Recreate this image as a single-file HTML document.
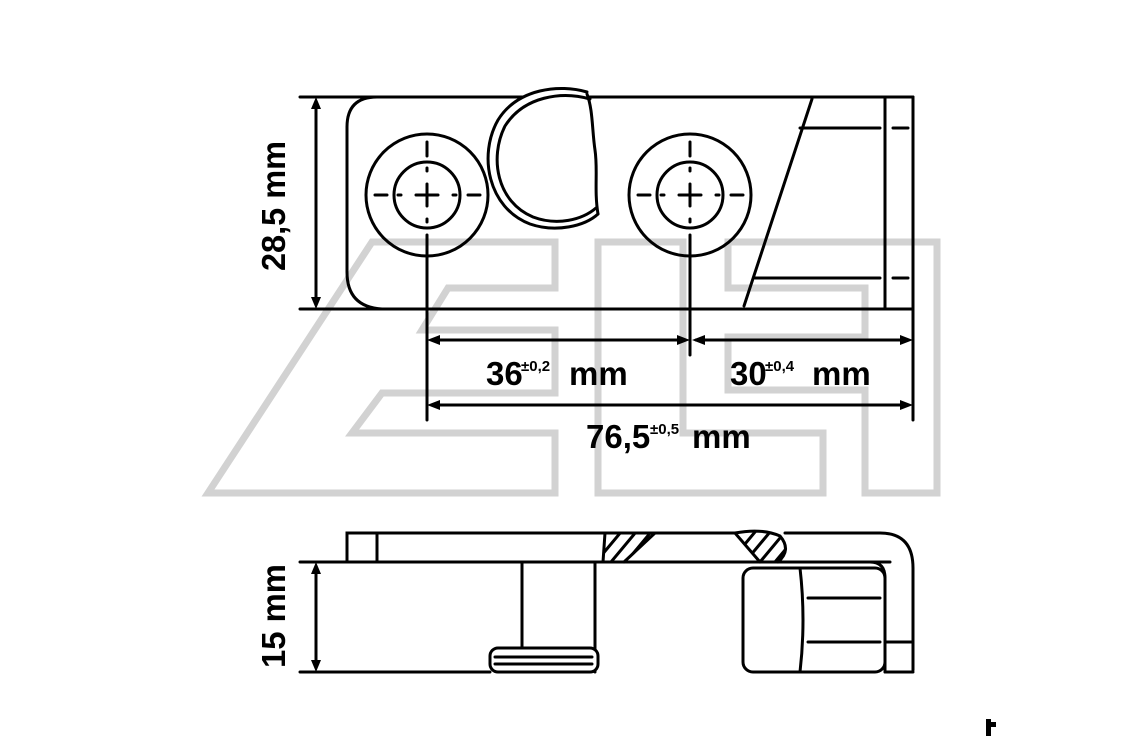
<!DOCTYPE html>
<html><head><meta charset="utf-8"><style>
html,body{margin:0;padding:0;background:#fff;}
svg{display:block;}
text{font-family:"Liberation Sans",sans-serif;font-weight:bold;fill:#000;}
</style></head><body>
<svg width="1146" height="736" viewBox="0 0 1146 736" xmlns="http://www.w3.org/2000/svg">
<defs>
<clipPath id="h1"><polygon points="603,533 655,533 624,562 603,562"/></clipPath>
<clipPath id="h2"><path d="M735,533 Q762,528 780,536 Q792,550 778,562 L760,562 Z"/></clipPath>
</defs>
<!-- watermark -->
<g fill="none" stroke="#d2d2d2" stroke-width="7" stroke-linejoin="miter">
<polygon points="372,242 555,242 555,288 448,288 422,330 555,330 555,393 382,393 352,433 555,433 555,493 208,493"/>
<polygon points="598,242 683,242 683,433 823,433 823,493 598,493"/>
<polygon points="728,242 937,242 937,493 865,493 865,390 728,390 728,337 865,337 865,288 728,288"/>
</g>
<g fill="none" stroke="#000" stroke-width="3" stroke-linecap="round">
<!-- top view body -->
<path d="M300,97 L913,97 M300,309 L913,309"/>
<path d="M377,97 Q347,97 347,127 L347,272 Q347,307 382,309"/>
<line x1="913" y1="97" x2="913" y2="420"/>
<line x1="885" y1="97" x2="885" y2="309"/>
<line x1="812" y1="99" x2="744" y2="306"/>
<line x1="800" y1="128" x2="880" y2="128"/>
<line x1="755" y1="278" x2="880" y2="278"/>
<line x1="893" y1="128" x2="908" y2="128"/>
<line x1="893" y1="278" x2="908" y2="278"/>
<!-- crescent -->
<path d="M587,92 C560,84 518,88 498,120 C478,155 488,208 530,224 C556,233 585,226 598,214" fill="#fff"/>
<path d="M590,99 C562,91 524,96 505,126 C489,158 497,202 533,217 C557,226 582,220 596,208"/>
<path d="M587,94 C593,110 592,130 595,150 C598,170 594,190 598,214"/>
<!-- circles -->
<circle cx="427" cy="195" r="61"/>
<circle cx="427" cy="195" r="33"/>
<circle cx="690" cy="195" r="61"/>
<circle cx="690" cy="195" r="33"/>
<!-- crosshairs -->
<g stroke-width="3">
<path d="M375,195h12 M398,195h3 M416,195h22 M453,195h3 M468,195h12"/>
<path d="M427,142v14 M427,168v3 M427,184v22 M427,219v3 M427,235v185"/>
<path d="M638,195h12 M661,195h3 M679,195h22 M716,195h3 M731,195h12"/>
<path d="M690,142v14 M690,168v3 M690,184v22 M690,219v3 M690,235v120"/>
</g>
<!-- dims -->
<line x1="316" y1="103" x2="316" y2="303"/>
<line x1="433" y1="340" x2="684" y2="340"/>
<line x1="696" y1="340" x2="907" y2="340"/>
<line x1="433" y1="405" x2="907" y2="405"/>
<!-- bottom view -->
<path d="M300,562 L890,562"/>
<path d="M347,562 L347,533 L605,533 M377,533 L377,562"/>
<path d="M605,533 L655,533 L624,562 M605,533 L603,562"/>
<path d="M655,533 L735,533 L760,562"/>
<path d="M735,533 Q762,528 780,536 Q792,550 778,562"/>
<path d="M785,533 L880,533 Q913,533 913,568 L913,670"/>
<path d="M870,562 Q885,562 885,578 L885,672"/>
<path d="M522,562 L522,648 M595,562 L595,672"/>
<rect x="490" y="648" width="108" height="24" rx="8" fill="#fff"/>
<path d="M495,657 H592 M495,664 H592"/>
<path d="M300,672 L490,672"/>
<rect x="743" y="568" width="142" height="104" rx="10"/>
<path d="M800,568 Q806,620 800,672"/>
<path d="M808,598 L880,598 M808,642 L880,642"/>
<path d="M885,642 L913,642 M885,672 L913,672"/>
<line x1="316" y1="568" x2="316" y2="666"/>
</g>
<g stroke="#000" stroke-width="3" clip-path="url(#h1)">
<path d="M596,562 L626,526 M611,562 L641,526 M626,562 L656,526 M641,562 L671,526"/>
</g>
<g stroke="#000" stroke-width="3" clip-path="url(#h2)">
<path d="M745,562 L775,526 M760,562 L790,526 M775,562 L805,526 M730,562 L760,526"/>
</g>
<!-- arrowheads -->
<g fill="#000">
<polygon points="316,97 311,109 321,109"/>
<polygon points="316,309 311,297 321,297"/>
<polygon points="316,562 311,574 321,574"/>
<polygon points="316,672 311,660 321,660"/>
<polygon points="427,340 440,335 440,345"/>
<polygon points="690,340 677,335 677,345"/>
<polygon points="692,340 705,335 705,345"/>
<polygon points="913,340 900,335 900,345"/>
<polygon points="427,405 440,400 440,410"/>
<polygon points="913,405 900,400 900,410"/>
<rect x="986" y="719" width="5" height="17"/>
<rect x="991" y="722" width="5" height="5"/>
</g>
<!-- labels -->
<text transform="translate(285,271) rotate(-90)" font-size="33" textLength="130" lengthAdjust="spacingAndGlyphs">28,5 mm</text>
<text transform="translate(285,668) rotate(-90)" font-size="33" textLength="104" lengthAdjust="spacingAndGlyphs">15 mm</text>
<text x="486" y="385" font-size="33">36</text>
<text x="521" y="371" font-size="15">±0,2</text>
<text x="569" y="385" font-size="33">mm</text>
<text x="730" y="385" font-size="33">30</text>
<text x="765" y="371" font-size="15">±0,4</text>
<text x="812" y="385" font-size="33">mm</text>
<text x="586" y="448" font-size="33">76,5</text>
<text x="650" y="434" font-size="15">±0,5</text>
<text x="692" y="448" font-size="33">mm</text>
</svg>
</body></html>
